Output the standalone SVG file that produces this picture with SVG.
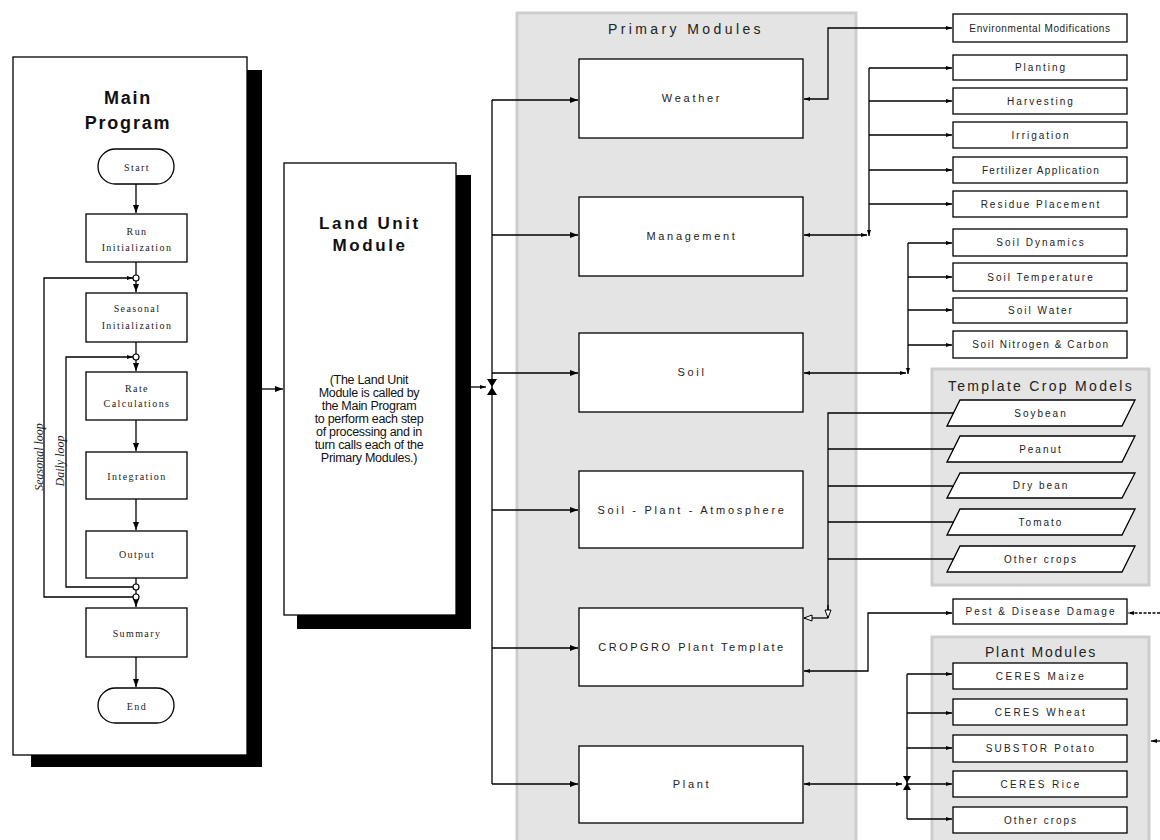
<svg xmlns="http://www.w3.org/2000/svg" width="1160" height="840" viewBox="0 0 1160 840">
<defs>
<style>
.bx{fill:#fff;stroke:#000;stroke-width:1.3}
.ln{fill:none;stroke:#000;stroke-width:1.3}
.sh{fill:#000}
.grp{fill:#e4e4e4;stroke:#cdcdcd;stroke-width:3}
.ser{font-family:"Liberation Serif","Times New Roman",serif;font-size:10px;letter-spacing:1.4px;fill:#222;text-anchor:middle}
.lp{font-family:"Liberation Serif","Times New Roman",serif;font-size:12px;font-style:italic;fill:#222;text-anchor:middle}
.ttl{font-family:"Liberation Sans",Arial,sans-serif;font-size:18px;font-weight:bold;letter-spacing:1.8px;fill:#111;text-anchor:middle}
.body{font-family:"Liberation Sans",Arial,sans-serif;font-size:12.5px;fill:#111;text-anchor:middle;letter-spacing:-0.3px}
.pm{font-family:"Liberation Sans",Arial,sans-serif;font-size:11px;letter-spacing:2.7px;fill:#222;text-anchor:middle}
.rb{font-family:"Liberation Sans",Arial,sans-serif;font-size:10px;letter-spacing:2px;fill:#222;text-anchor:middle}
.gt{font-family:"Liberation Sans",Arial,sans-serif;font-size:14px;letter-spacing:2.5px;fill:#222;text-anchor:middle}
</style>
<marker id="ah" viewBox="0 0 8 6" refX="8" refY="3" markerWidth="8" markerHeight="6" orient="auto-start-reverse" markerUnits="userSpaceOnUse"><path d="M0,0 L8,3 L0,6 z" fill="#000"/></marker>
<marker id="as" viewBox="0 0 6 4" refX="6" refY="2" markerWidth="6" markerHeight="4" orient="auto-start-reverse" markerUnits="userSpaceOnUse"><path d="M0,0 L6,2 L0,4 z" fill="#000"/></marker>
<marker id="oh" viewBox="0 0 10 8" refX="9" refY="4" markerWidth="10" markerHeight="8" orient="auto" markerUnits="userSpaceOnUse"><path d="M1,1 L9,4 L1,7 z" fill="#fff" stroke="#000" stroke-width="1"/></marker>
</defs>
<rect width="1160" height="840" fill="#fff"/>

<!-- group regions -->
<g id="primary-modules-region">
<rect class="grp" x="517" y="13" width="339" height="840"/>
<text class="gt" x="686" y="34" style="letter-spacing:3.4px">Primary Modules</text>
</g>
<g id="template-crop-region">
<rect class="grp" x="932" y="369" width="217" height="216"/>
<text class="gt" x="1041" y="391" style="letter-spacing:2.3px">Template Crop Models</text>
</g>
<g id="plant-modules-region">
<rect class="grp" x="932" y="637" width="217" height="215"/>
<text class="gt" x="1041" y="657" style="letter-spacing:1.8px">Plant Modules</text>
</g>

<!-- Main program -->
<g id="main-program">
<rect class="sh" x="31" y="70" width="231" height="697"/>
<rect class="bx" x="13" y="57" width="234" height="698"/>
<text class="ttl" x="128" y="104">Main</text>
<text class="ttl" x="128" y="129">Program</text>
</g>
<g id="start"><rect class="bx" x="98" y="149" width="76" height="35" rx="17.5"/><text class="ser" x="137" y="171">Start</text></g>
<g id="run-init"><rect class="bx" x="86" y="214" width="101" height="48"/><text class="ser" x="137" y="235">Run</text><text class="ser" x="137" y="251">Initialization</text></g>
<g id="seasonal-init"><rect class="bx" x="86" y="293" width="101" height="49"/><text class="ser" x="137" y="312">Seasonal</text><text class="ser" x="137" y="329">Initialization</text></g>
<g id="rate-calc"><rect class="bx" x="86" y="372" width="101" height="48"/><text class="ser" x="137" y="392">Rate</text><text class="ser" x="137" y="407">Calculations</text></g>
<g id="integration"><rect class="bx" x="86" y="452" width="101" height="47"/><text class="ser" x="137" y="480">Integration</text></g>
<g id="output"><rect class="bx" x="86" y="531" width="101" height="47"/><text class="ser" x="137" y="558">Output</text></g>
<g id="summary"><rect class="bx" x="86" y="608" width="101" height="49"/><text class="ser" x="137" y="637">Summary</text></g>
<g id="end"><rect class="bx" x="98" y="688" width="76" height="35" rx="17.5"/><text class="ser" x="137" y="710">End</text></g>
<g id="loop-labels">
<text class="lp" transform="translate(43,457) rotate(-90)">Seasonal loop</text>
<text class="lp" transform="translate(64,461) rotate(-90)">Daily loop</text>
</g>

<!-- Land unit -->
<g id="land-unit">
<rect class="sh" x="297" y="175" width="174" height="454"/>
<rect class="bx" x="284" y="163" width="172" height="452"/>
<text class="ttl" x="370" y="229" style="font-size:17px;letter-spacing:2.6px">Land Unit</text>
<text class="ttl" x="370" y="251" style="font-size:17px;letter-spacing:2.6px">Module</text>
<text class="body" x="369" y="384">(The Land Unit</text>
<text class="body" x="369" y="397">Module is called by</text>
<text class="body" x="369" y="410">the Main Program</text>
<text class="body" x="369" y="423">to perform each step</text>
<text class="body" x="369" y="436">of processing and in</text>
<text class="body" x="369" y="449">turn calls each of the</text>
<text class="body" x="369" y="462">Primary Modules.)</text>
</g>

<!-- Primary modules -->
<g id="weather"><rect class="bx" x="579" y="59" width="224" height="79"/><text class="pm" x="692" y="102">Weather</text></g>
<g id="management"><rect class="bx" x="579" y="197" width="224" height="79"/><text class="pm" x="692" y="240">Management</text></g>
<g id="soil"><rect class="bx" x="579" y="333" width="224" height="79"/><text class="pm" x="692" y="376">Soil</text></g>
<g id="spa"><rect class="bx" x="579" y="471" width="224" height="77"/><text class="pm" x="692" y="514">Soil - Plant - Atmosphere</text></g>
<g id="cropgro"><rect class="bx" x="579" y="608" width="224" height="78"/><text class="pm" x="692" y="651" style="letter-spacing:2.5px">CROPGRO Plant Template</text></g>
<g id="plant"><rect class="bx" x="579" y="746" width="224" height="77"/><text class="pm" x="692" y="788">Plant</text></g>

<!-- right side boxes -->
<g id="env-mod"><rect class="bx" x="953" y="14" width="174" height="28"/><text class="rb" x="1040" y="32" style="letter-spacing:0.6px">Environmental Modifications</text></g>
<g id="planting"><rect class="bx" x="953" y="55" width="174" height="25"/><text class="rb" x="1041" y="71">Planting</text></g>
<g id="harvesting"><rect class="bx" x="953" y="88" width="174" height="26"/><text class="rb" x="1041" y="105">Harvesting</text></g>
<g id="irrigation"><rect class="bx" x="953" y="122" width="174" height="26"/><text class="rb" x="1041" y="139">Irrigation</text></g>
<g id="fertilizer"><rect class="bx" x="953" y="157" width="174" height="26"/><text class="rb" x="1041" y="174" style="letter-spacing:1.3px">Fertilizer Application</text></g>
<g id="residue"><rect class="bx" x="953" y="191" width="174" height="26"/><text class="rb" x="1041" y="208">Residue Placement</text></g>
<g id="soil-dynamics"><rect class="bx" x="953" y="229" width="174" height="27"/><text class="rb" x="1041" y="246">Soil Dynamics</text></g>
<g id="soil-temp"><rect class="bx" x="953" y="263" width="174" height="28"/><text class="rb" x="1041" y="281">Soil Temperature</text></g>
<g id="soil-water"><rect class="bx" x="953" y="298" width="174" height="25"/><text class="rb" x="1041" y="314">Soil Water</text></g>
<g id="soil-nc"><rect class="bx" x="953" y="331" width="174" height="27"/><text class="rb" x="1041" y="348" style="letter-spacing:1.6px">Soil Nitrogen &amp; Carbon</text></g>

<g id="soybean"><polygon class="bx" points="947,426 960,400 1135,400 1122,426"/><text class="rb" x="1041" y="417">Soybean</text></g>
<g id="peanut"><polygon class="bx" points="947,462 960,436 1135,436 1122,462"/><text class="rb" x="1041" y="453">Peanut</text></g>
<g id="drybean"><polygon class="bx" points="947,498 960,473 1135,473 1122,498"/><text class="rb" x="1041" y="489">Dry bean</text></g>
<g id="tomato"><polygon class="bx" points="947,535 960,509 1135,509 1122,535"/><text class="rb" x="1041" y="526">Tomato</text></g>
<g id="other-crops-t"><polygon class="bx" points="947,572 960,546 1135,546 1122,572"/><text class="rb" x="1041" y="563">Other crops</text></g>

<g id="pest"><rect class="bx" x="953" y="599" width="174" height="25"/><text class="rb" x="1041" y="615">Pest &amp; Disease Damage</text></g>
<g id="ceres-maize"><rect class="bx" x="953" y="663" width="174" height="26"/><text class="rb" x="1041" y="680" style="letter-spacing:2.4px">CERES Maize</text></g>
<g id="ceres-wheat"><rect class="bx" x="953" y="699" width="174" height="26"/><text class="rb" x="1041" y="716" style="letter-spacing:2.4px">CERES Wheat</text></g>
<g id="substor"><rect class="bx" x="953" y="735" width="174" height="27"/><text class="rb" x="1041" y="752" style="letter-spacing:2.2px">SUBSTOR Potato</text></g>
<g id="ceres-rice"><rect class="bx" x="953" y="771" width="174" height="26"/><text class="rb" x="1041" y="788" style="letter-spacing:2.4px">CERES Rice</text></g>
<g id="other-crops-p"><rect class="bx" x="953" y="807" width="174" height="26"/><text class="rb" x="1041" y="824">Other crops</text></g>

<!-- connectors -->
<g id="connectors">
<path class="ln" d="M136,184 V213" marker-end="url(#ah)"/>
<path class="ln" d="M136,262 V275"/>
<path class="ln" d="M136,281 V292" marker-end="url(#ah)"/>
<path class="ln" d="M136,342 V354"/>
<path class="ln" d="M136,360 V371" marker-end="url(#ah)"/>
<path class="ln" d="M136,420 V451" marker-end="url(#ah)"/>
<path class="ln" d="M136,499 V530" marker-end="url(#ah)"/>
<path class="ln" d="M136,578 V584"/>
<path class="ln" d="M136,590 V594"/>
<path class="ln" d="M136,600 V607" marker-end="url(#ah)"/>
<path class="ln" d="M136,657 V687" marker-end="url(#ah)"/>
<path class="ln" d="M133,597 H44 V278 H133" marker-end="url(#as)"/>
<path class="ln" d="M133,587 H66 V357 H133" marker-end="url(#as)"/>
<circle cx="136" cy="278" r="3" fill="#fff" stroke="#000" stroke-width="1.2"/>
<circle cx="136" cy="357" r="3" fill="#fff" stroke="#000" stroke-width="1.2"/>
<circle cx="136" cy="587" r="3" fill="#fff" stroke="#000" stroke-width="1.2"/>
<circle cx="136" cy="597" r="3" fill="#fff" stroke="#000" stroke-width="1.2"/>
<path class="ln" d="M262,389 H283" marker-end="url(#ah)"/>
<path class="ln" d="M471,387 H486" marker-end="url(#as)"/>
<polygon points="487,379 497,379 492,387" fill="#000"/>
<polygon points="487,395 497,395 492,387" fill="#000"/>
<path class="ln" d="M492,100 V784"/>
<path class="ln" d="M492,100 H578" marker-end="url(#ah)"/>
<path class="ln" d="M492,235 H578" marker-end="url(#ah)"/>
<path class="ln" d="M492,373 H578" marker-end="url(#ah)"/>
<path class="ln" d="M492,510 H578" marker-end="url(#ah)"/>
<path class="ln" d="M492,648 H578" marker-end="url(#ah)"/>
<path class="ln" d="M492,784 H578" marker-end="url(#ah)"/>
<path class="ln" d="M804,99 H828 V28 H952" marker-start="url(#as)" marker-end="url(#as)"/>
<path class="ln" d="M804,235 H867" marker-start="url(#as)" marker-end="url(#as)"/>
<path class="ln" d="M869,68 V236" marker-end="url(#as)"/>
<path class="ln" d="M869,68 H952" marker-end="url(#as)"/>
<path class="ln" d="M869,101 H952" marker-end="url(#as)"/>
<path class="ln" d="M869,135 H952" marker-end="url(#as)"/>
<path class="ln" d="M869,170 H952" marker-end="url(#as)"/>
<path class="ln" d="M869,204 H952" marker-end="url(#as)"/>
<path class="ln" d="M804,373 H906" marker-start="url(#as)" marker-end="url(#as)"/>
<path class="ln" d="M908,243 V374" marker-end="url(#as)"/>
<path class="ln" d="M908,243 H952" marker-end="url(#as)"/>
<path class="ln" d="M908,277 H952" marker-end="url(#as)"/>
<path class="ln" d="M908,310 H952" marker-end="url(#as)"/>
<path class="ln" d="M908,345 H952" marker-end="url(#as)"/>
<path class="ln" d="M954,413 H828 V617"/>
<path class="ln" d="M828,605 V618" marker-end="url(#oh)"/>
<path class="ln" d="M828,618 H804" marker-end="url(#oh)"/>
<path class="ln" d="M954,449 H828"/>
<path class="ln" d="M954,486 H828"/>
<path class="ln" d="M954,522 H828"/>
<path class="ln" d="M954,559 H828"/>
<path class="ln" d="M804,671 H868 V613 H952" marker-start="url(#as)" marker-end="url(#as)"/>
<path class="ln" d="M1160,613 H1128" stroke-dasharray="3,1.5" marker-end="url(#as)"/>
<path class="ln" d="M804,784 H902" marker-start="url(#as)" marker-end="url(#as)"/>
<polygon points="903,776 911,776 907,783" fill="#000"/>
<polygon points="903,790 911,790 907,783" fill="#000"/>
<path class="ln" d="M907,674 V819"/>
<path class="ln" d="M907,674 H952" marker-end="url(#as)"/>
<path class="ln" d="M907,713 H952" marker-end="url(#as)"/>
<path class="ln" d="M907,748 H952" marker-end="url(#as)"/>
<path class="ln" d="M907,784 H952" marker-end="url(#as)"/>
<path class="ln" d="M907,819 H952" marker-end="url(#as)"/>
<path class="ln" d="M1160,741 H1151" marker-end="url(#as)"/>
</g>
</svg>
